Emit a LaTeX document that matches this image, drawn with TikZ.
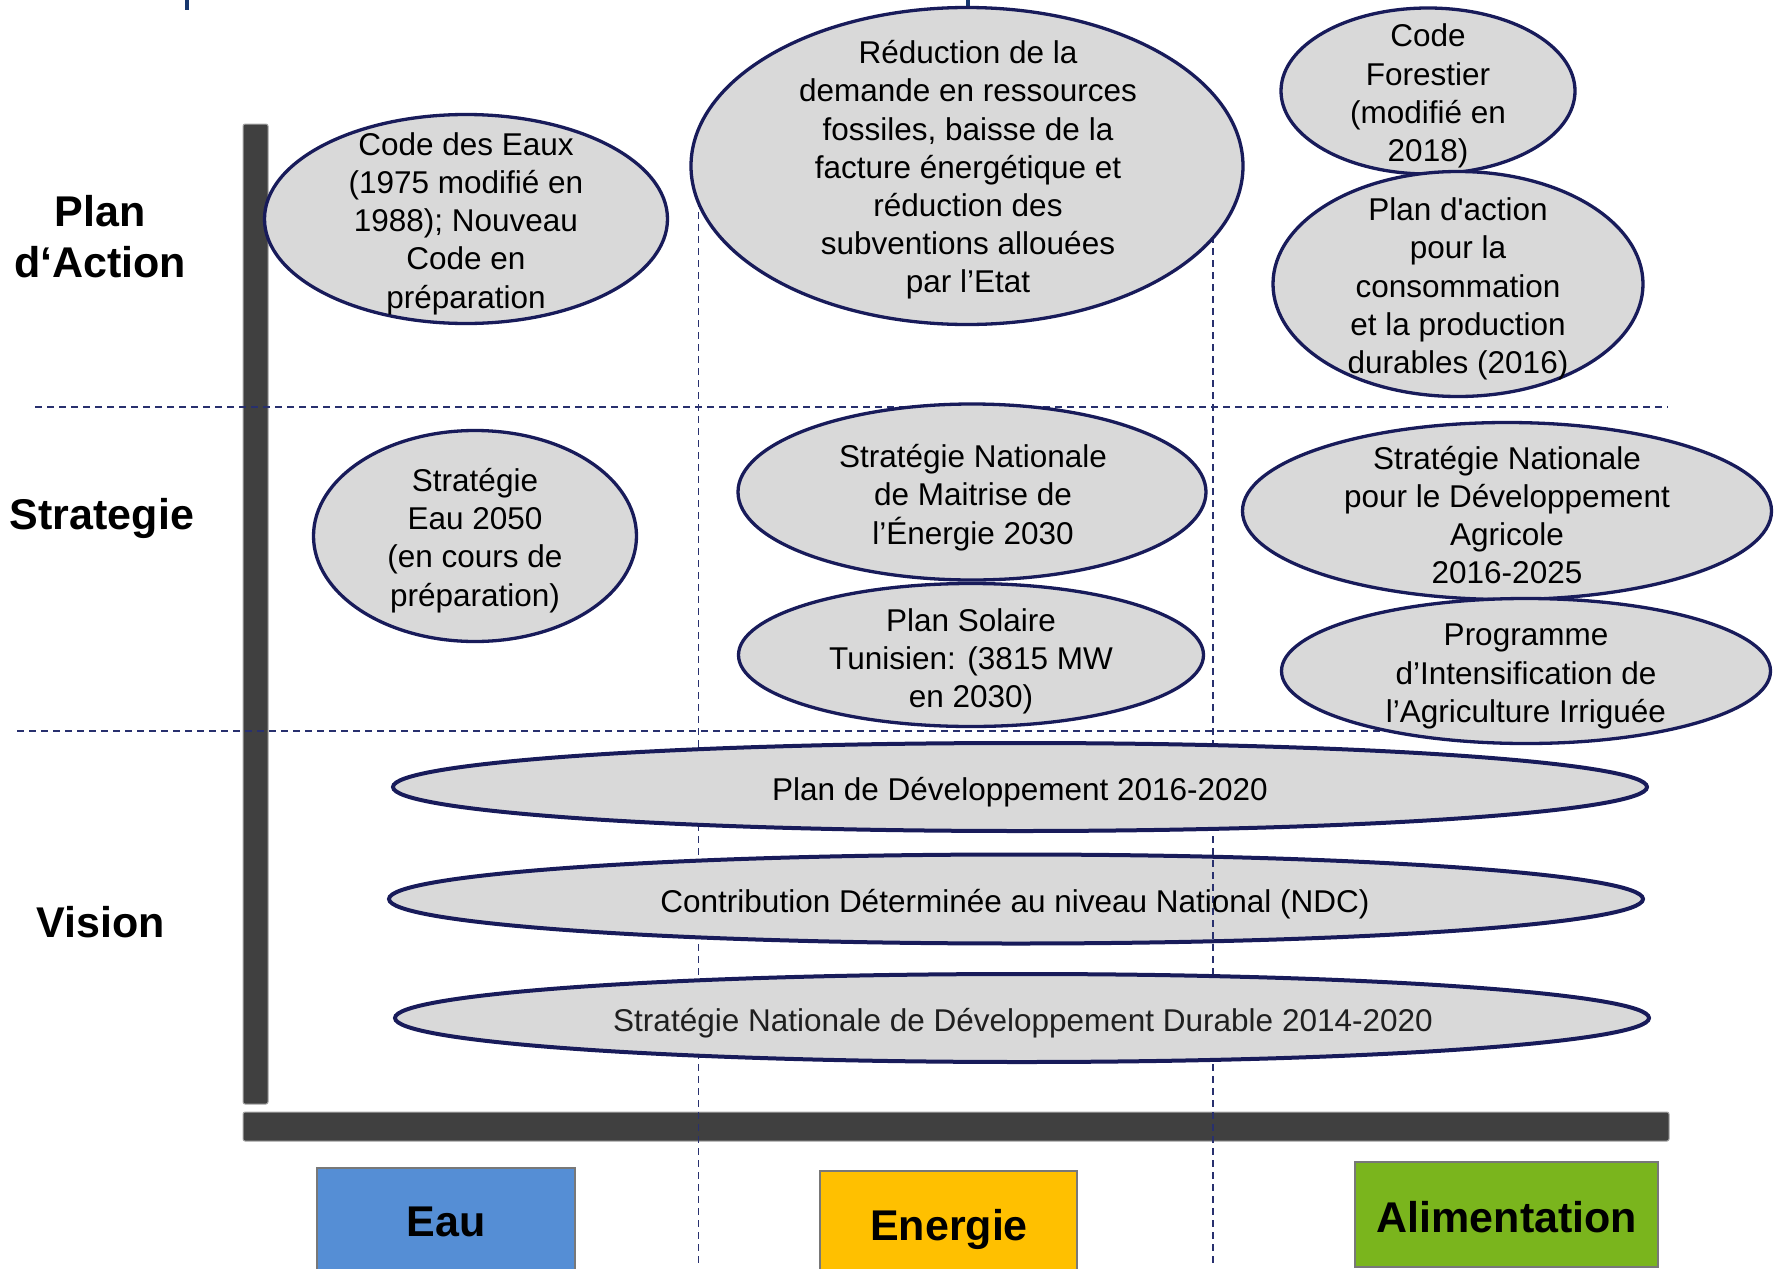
\documentclass[tikz,border=0pt]{standalone}
\usepackage{fontspec}
\setmainfont{Liberation Sans}
\usetikzlibrary{shapes.geometric}
\definecolor{ellfill}{RGB}{217,217,217}
\definecolor{navy}{RGB}{24,27,90}
\definecolor{dashc}{RGB}{40,48,110}
\definecolor{barc}{RGB}{64,64,64}
\definecolor{eaublue}{RGB}{85,142,213}
\definecolor{energ}{RGB}{255,192,0}
\definecolor{alim}{RGB}{122,181,29}
\definecolor{titleblue}{RGB}{23,55,110}
\definecolor{edgegray}{RGB}{120,120,120}
\begin{document}
\begin{tikzpicture}[x=1pt,y=-1pt,
  ell/.style={ellipse, draw=navy, fill=ellfill, line width=3.3pt, inner sep=0pt, outer sep=0pt},
  flatell/.style={ell, line width=4pt},
  etxt/.style={align=center, font=\fontsize{31.5}{38.2}\selectfont, inner sep=0pt},
  lbl/.style={align=center, font=\fontsize{43}{51}\selectfont\bfseries, inner sep=0pt},
  sectbox/.style={draw=edgegray, line width=1.5pt, anchor=north west, inner sep=0pt, outer sep=0pt},
  axisbar/.style={fill=barc, draw=gray!70, line width=1pt, rounded corners=2pt},
  hline/.style={draw=dashc, line width=1.8pt, dash pattern=on 7pt off 5pt},
  vline/.style={draw=dashc, line width=1.6pt, dash pattern=on 7pt off 5pt},
]
\useasboundingbox (0,0) rectangle (1781,1269);
\fill[white] (0,0) rectangle (1781,1269);

% fragments of the cut-off title
\fill[titleblue] (185,0) rectangle (189,10);
\fill[titleblue] (966,0) rectangle (970,7);

% axes
\path[axisbar] (243,124) rectangle (268,1104);
\path[axisbar] (243,1112) rectangle (1669,1141);

% grid lines
\draw[hline] (35,407) -- (1668,407);
\draw[hline] (17,731) -- (1668,731);
\draw[vline] (698.5,200) -- (698.5,1264);
\draw[vline] (1213,200) -- (1213,1266);

% sector boxes
\node[sectbox, fill=eaublue, minimum width=258pt, minimum height=112pt] (beau) at (317,1168) {};
\node[sectbox, fill=energ, minimum width=257pt, minimum height=110pt] (benergie) at (820,1171) {};
\node[sectbox, fill=alim, minimum width=303pt, minimum height=105pt] (balim) at (1355,1162) {};
\node[lbl] (leau) at (446,1221.5) {Eau};
\node[lbl] (lenergie) at (949,1229) {Energie};
\node[lbl] (lalim) at (1507,1217) {Alimentation};

% row labels
\node[lbl] (rplan) at (100,236.8) {Plan\\d‘Action};
\node[lbl] (rstrat) at (102,518.5) {Strategie};
\node[lbl] (rvision) at (101,922.5) {Vision};

% Plan d'action row
\node[ell, minimum width=403pt, minimum height=209pt] (eaux) at (466,219) {};
\node[etxt] (teaux) at (466,223.5) {Code des Eaux\\(1975 modifié en\\1988); Nouveau\\Code en\\préparation};
\node[ell, minimum width=552pt, minimum height=317pt] (reduc) at (967,166) {};
\node[etxt] (treduc) at (968,170) {Réduction de la\\demande en ressources\\fossiles, baisse de la\\facture énergétique et\\réduction des\\subventions allouées\\par l’Etat};
\node[ell, minimum width=294pt, minimum height=166pt] (forest) at (1428,91) {};
\node[etxt] (tforest) at (1428,96) {Code\\Forestier\\(modifié en\\2018)};
\node[ell, minimum width=370pt, minimum height=225pt] (pacpd) at (1458,284) {};
\node[etxt] (tpacpd) at (1458,289) {Plan d\textquotesingle action\\pour la\\consommation\\et la production\\durables (2016)};

% Strategie row
\node[ell, minimum width=323pt, minimum height=211pt] (eau2050) at (475,536) {};
\node[etxt] (teau2050) at (475,540.5) {Stratégie\\Eau 2050\\(en cours de\\préparation)};
\node[ell, minimum width=468pt, minimum height=176pt] (snme) at (972,492) {};
\node[etxt] (tsnme) at (973,497.5) {Stratégie Nationale\\de Maitrise de\\l’Énergie 2030};
\node[ell, minimum width=465pt, minimum height=143pt] (pst) at (971,655) {};
\node[etxt] (tpst) at (971,661.5) {Plan Solaire\\Tunisien: (3815 MW\\en 2030)};
\node[ell, minimum width=529pt, minimum height=177pt] (snda) at (1507,511) {};
\node[etxt] (tsnda) at (1507,515) {Stratégie Nationale\\pour le Développement\\Agricole\\2016-2025};
\node[ell, minimum width=489pt, minimum height=145pt] (pdia) at (1526,671) {};
\node[etxt] (tpdia) at (1526,676.5) {Programme\\d’Intensification de\\l’Agriculture Irriguée};

% Vision row
\node[flatell, minimum width=1254pt, minimum height=88pt] (pdev) at (1020,787) {};
\node[etxt] (tpdev) at (1020,792) {Plan de Développement 2016-2020};
\node[flatell, minimum width=1254pt, minimum height=89pt] (ndc) at (1016,899) {};
\begin{scope}
  \clip (1200,852) rectangle (1230,948);
  \draw[vline] (1213,200) -- (1213,1266);
\end{scope}
\node[etxt] (tndc) at (1015,904.5) {Contribution Déterminée au niveau National (NDC)};
\node[flatell, minimum width=1254pt, minimum height=88pt] (sndd) at (1022,1018) {};
\node[etxt, text=black!88] (tsndd) at (1023,1023) {Stratégie Nationale de Développement Durable 2014-2020};
\end{tikzpicture}
\end{document}
